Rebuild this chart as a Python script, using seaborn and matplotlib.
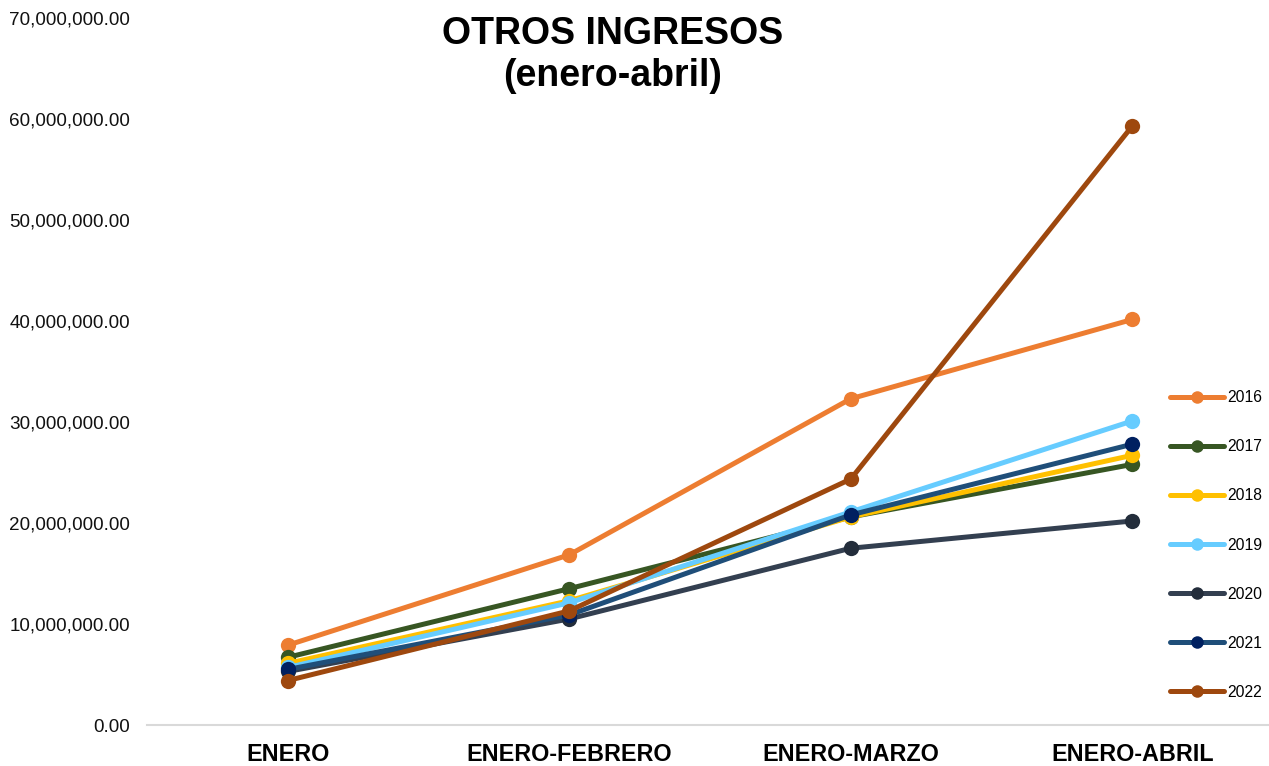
import pandas as pd
import matplotlib
matplotlib.use("Agg")
import matplotlib.pyplot as plt
import matplotlib.ticker as mticker
import seaborn as sns

# datos
periodos = ["ENERO", "ENERO-FEBRERO", "ENERO-MARZO", "ENERO-ABRIL"]
anios = ["2016", "2017", "2018", "2019", "2020", "2021", "2022"]
v2016 = [7_900_000, 16_850_000, 32_300_000, 40_150_000]
v2017 = [6_700_000, 13_500_000, 20_600_000, 25_800_000]
v2018 = [6_100_000, 12_300_000, 20_600_000, 26_700_000]
v2019 = [5_700_000, 12_100_000, 21_100_000, 30_100_000]
v2020 = [5_300_000, 10_500_000, 17_500_000, 20_200_000]
v2021 = [5_500_000, 10_900_000, 20_800_000, 27_800_000]
v2022 = [4_400_000, 11_300_000, 24_350_000, 59_300_000]
colores = ["#ED7D31", "#375623", "#FFC000", "#66CCFF", "#333F50", "#1F4E79", "#9E480E"]
colores_marcador = ["#ED7D31", "#375623", "#FFC000", "#66CCFF", "#232D3B", "#002060", "#9E480E"]

series = [v2016, v2017, v2018, v2019, v2020, v2021, v2022]
rows = []
for anio, vals in zip(anios, series):
    for p, v in zip(periodos, vals):
        rows.append({"periodo": p, "anio": anio, "valor": v})
df = pd.DataFrame(rows)

sns.set_theme(style="white")
plt.rcParams["font.family"] = ["Liberation Sans", "DejaVu Sans"]
plt.rcParams["text.color"] = "black"
plt.rcParams["xtick.color"] = "black"
plt.rcParams["ytick.color"] = "black"

fig = plt.figure(figsize=(12.69, 7.66), dpi=100)
ax = fig.add_axes([147 / 1269, 1 - 725 / 766, 1126 / 1269, 707 / 766])

sns.lineplot(data=df, x="periodo", y="valor", hue="anio", hue_order=anios,
             palette=colores, marker="o", markersize=11, linewidth=3.6,
             markeredgewidth=0, sort=False, legend=False, ax=ax)

for ln, mc in zip(ax.lines, colores_marcador):
    ln.set_markerfacecolor(mc)
    ln.set_markeredgecolor(mc)
    ln.set_solid_capstyle("round")

ax.set_xlim(-0.5, 3.5)
ax.set_ylim(0, 70_000_000)
ax.yaxis.set_major_locator(mticker.MultipleLocator(10_000_000))
ax.yaxis.set_major_formatter(mticker.FuncFormatter(lambda v, p: f"{v:,.2f}"))
ax.tick_params(axis="y", length=0, pad=12, labelsize=13.6, labelcolor="#111111")
ax.tick_params(axis="x", length=0, pad=13, labelsize=16.8, labelcolor="black")
for lab in ax.get_xticklabels():
    lab.set_fontweight("bold")
ax.set_xlabel("")
ax.set_ylabel("")
for s in ["top", "right", "left"]:
    ax.spines[s].set_visible(False)
ax.spines["bottom"].set_color("#D9D9D9")
ax.spines["bottom"].set_linewidth(1.5)

leg = ax.legend(ax.lines, anios, loc="center left", bbox_to_anchor=(1156 / 1269, 1 - 545 / 766),
                bbox_transform=fig.transFigure, frameon=False, fontsize=11.3,
                handlelength=3.45, handletextpad=0.2, labelspacing=2.17)
for h in leg.legend_handles:
    h.set_markersize(9)

fig.text(613 / 1269, 1 - 55 / 766, "OTROS INGRESOS\n(enero-abril)", ha="center", va="center",
         fontsize=27, fontweight="bold", linespacing=1.22)

fig.savefig("out.png", dpi=100)
